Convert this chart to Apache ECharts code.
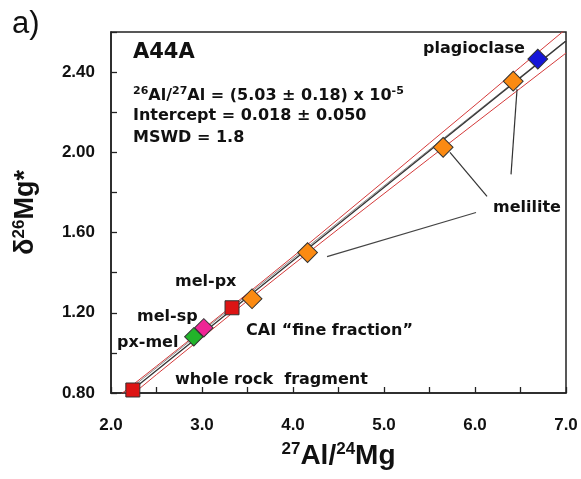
<!DOCTYPE html>
<html><head><meta charset="utf-8">
<script src="https://cdn.jsdelivr.net/npm/echarts@6/dist/echarts.min.js"></script>
<style>html,body{margin:0;padding:0;background:#fff}#c{width:581px;height:479px}</style>
</head><body><div id="c"></div>
<script>
// ---- data ----
var wholeRock = [[2.24, 0.815]];
var pxMel = [[2.91, 1.08]];
var melSp = [[3.02, 1.125]];
var melPx = [[3.33, 1.225]];
var melilite = [[3.55, 1.27], [4.16, 1.50], [5.65, 2.025], [6.42, 2.355]];
var plagioclase = [[6.69, 2.465]];

var fitLine = [[2.0, 0.73], [7.0, 2.555]];
var fitLine2 = [[2.0, 0.745], [7.0, 2.558]];
var envX = [2.0, 2.5, 3.0, 3.5, 4.0, 4.5, 5.0, 5.5, 6.0, 6.5, 7.0];
var envUpper = [0.755, 0.934, 1.114, 1.296, 1.48, 1.668, 1.856, 2.046, 2.235, 2.426, 2.615];
var envLower = [0.705, 0.892, 1.076, 1.26, 1.44, 1.618, 1.794, 1.97, 2.145, 2.32, 2.495];

var leader1 = [[6.462, 2.315], [6.396, 1.89]];
var leader2 = [[5.725, 2.0], [6.132, 1.78]];
var leader3 = [[6.011, 1.70], [4.374, 1.48]];

var xTickLabels = ['2.0', '3.0', '4.0', '5.0', '6.0', '7.0'];
var yTickLabels = ['0.80', '1.20', '1.60', '2.00', '2.40'];

function zip(xs, ys) { return xs.map(function (x, i) { return [x, ys[i]]; }); }

var chart = echarts.init(document.getElementById('c'), null, {renderer: 'canvas'});
var annoFont = 'bold 16px "DejaVu Sans"';
var sup = {fontSize: 11, fontWeight: 'bold', fontFamily: 'DejaVu Sans', lineHeight: 11, verticalAlign: 'top', fill: '#111'};

function scatter(name, data, symbol, color, size, rot) {
  return {
    name: name, type: 'scatter', data: data, symbol: symbol, symbolSize: size,
    symbolRotate: rot || 0, z: 5,
    itemStyle: {color: color, borderColor: '#333', borderWidth: 1, opacity: 1}
  };
}
function line(data, color, w, z) {
  return {type: 'line', data: data, symbol: 'none', silent: true, z: z || 2,
    lineStyle: {color: color, width: w}, clip: true};
}
var nameRich = {s: {fontFamily: 'Liberation Sans', fontWeight: 'bold', fontSize: 17, lineHeight: 17, verticalAlign: 'top', color: '#111'}};

chart.setOption({
  animation: false,
  backgroundColor: '#fff',
  grid: {left: 111, right: 15, top: 32, bottom: 86, show: true, borderColor: '#222', borderWidth: 1.5, backgroundColor: 'transparent'},
  xAxis: {
    type: 'value', min: 2.0, max: 7.0, interval: 0.5,
    axisLine: {show: true, lineStyle: {color: '#222', width: 1.5}},
    axisTick: {show: true, inside: true, length: 6, lineStyle: {color: '#222', width: 1.3}},
    splitLine: {show: false},
    axisLabel: {margin: 24, fontFamily: 'Liberation Sans', fontWeight: 'bold', fontSize: 17, color: '#111',
      formatter: function (v) { var i = xTickLabels.indexOf(v.toFixed(1)); return (Math.abs(v - Math.round(v)) < 1e-6 && i >= 0) ? xTickLabels[i] : ''; }},
    name: '{s|27}Al/{s|24}Mg', nameLocation: 'middle', nameGap: 48,
    nameTextStyle: {fontFamily: 'Liberation Sans', fontWeight: 'bold', fontSize: 28, color: '#111', lineHeight: 30, rich: nameRich}
  },
  yAxis: {
    type: 'value', min: 0.8, max: 2.6, interval: 0.2,
    axisLine: {show: true, lineStyle: {color: '#222', width: 1.5}},
    axisTick: {show: true, inside: true, length: 6, lineStyle: {color: '#222', width: 1.3}},
    splitLine: {show: false},
    axisLabel: {margin: 16, fontFamily: 'Liberation Sans', fontWeight: 'bold', fontSize: 17, color: '#111',
      formatter: function (v) { var s = v.toFixed(2); return yTickLabels.indexOf(s) >= 0 ? s : ''; }},
    name: 'δ{s|26}Mg*', nameLocation: 'middle', nameGap: 70, nameRotate: 90,
    nameTextStyle: {fontFamily: 'Liberation Sans', fontWeight: 'bold', fontSize: 27, color: '#111', lineHeight: 30, rich: nameRich}
  },
  series: [
    line(zip(envX, envUpper), '#d43a3a', 1, 2),
    line(zip(envX, envLower), '#d43a3a', 1, 2),
    line(fitLine2, '#888', 1, 2),
    line(fitLine, '#333', 1.3, 3),
    line(leader1, '#333', 1.2, 2),
    line(leader2, '#333', 1.2, 2),
    line(leader3, '#444', 1.2, 2),
    scatter('whole rock', wholeRock, 'rect', '#dd1414', 14, 0),
    scatter('px-mel', pxMel, 'rect', '#22b42a', 13, 45),
    scatter('mel-sp', melSp, 'rect', '#ee2595', 13, 45),
    scatter('mel-px', melPx, 'rect', '#dd1414', 14, 0),
    scatter('melilite', melilite, 'rect', '#fb8a12', 14, 45),
    scatter('plagioclase', plagioclase, 'rect', '#1616d8', 14, 45)
  ],
  graphic: [
    {type: 'text', left: 12, top: 9, style: {text: 'a)', font: '31px "Liberation Sans"', fill: '#111'}},
    {type: 'text', x: 133, y: 42, style: {text: 'A44A', font: 'bold 21px "DejaVu Sans"', fill: '#111'}},
    {type: 'text', x: 133, y: 86, style: {text: '{s|26}Al/{s|27}Al = (5.03 ± 0.18) x 10{s|-5}', font: annoFont, lineHeight: 20, fill: '#111', rich: {s: sup}}},
    {type: 'text', x: 133, y: 108, style: {text: 'Intercept = 0.018 ± 0.050', font: annoFont, fill: '#111'}},
    {type: 'text', x: 133, y: 130, style: {text: 'MSWD = 1.8', font: annoFont, fill: '#111'}},
    {type: 'text', x: 423, y: 41, style: {text: 'plagioclase', font: annoFont, fill: '#111'}},
    {type: 'text', x: 493, y: 200, style: {text: 'melilite', font: annoFont, fill: '#111'}},
    {type: 'text', x: 175, y: 274, style: {text: 'mel-px', font: annoFont, fill: '#111'}},
    {type: 'text', x: 137, y: 309, style: {text: 'mel-sp', font: annoFont, fill: '#111'}},
    {type: 'text', x: 117, y: 335, style: {text: 'px-mel', font: annoFont, fill: '#111'}},
    {type: 'text', x: 246, y: 323, style: {text: 'CAI “fine fraction”', font: annoFont, fill: '#111'}},
    {type: 'text', x: 175, y: 372, style: {text: 'whole rock  fragment', font: annoFont, fill: '#111'}}
  ]
});
</script></body></html>
